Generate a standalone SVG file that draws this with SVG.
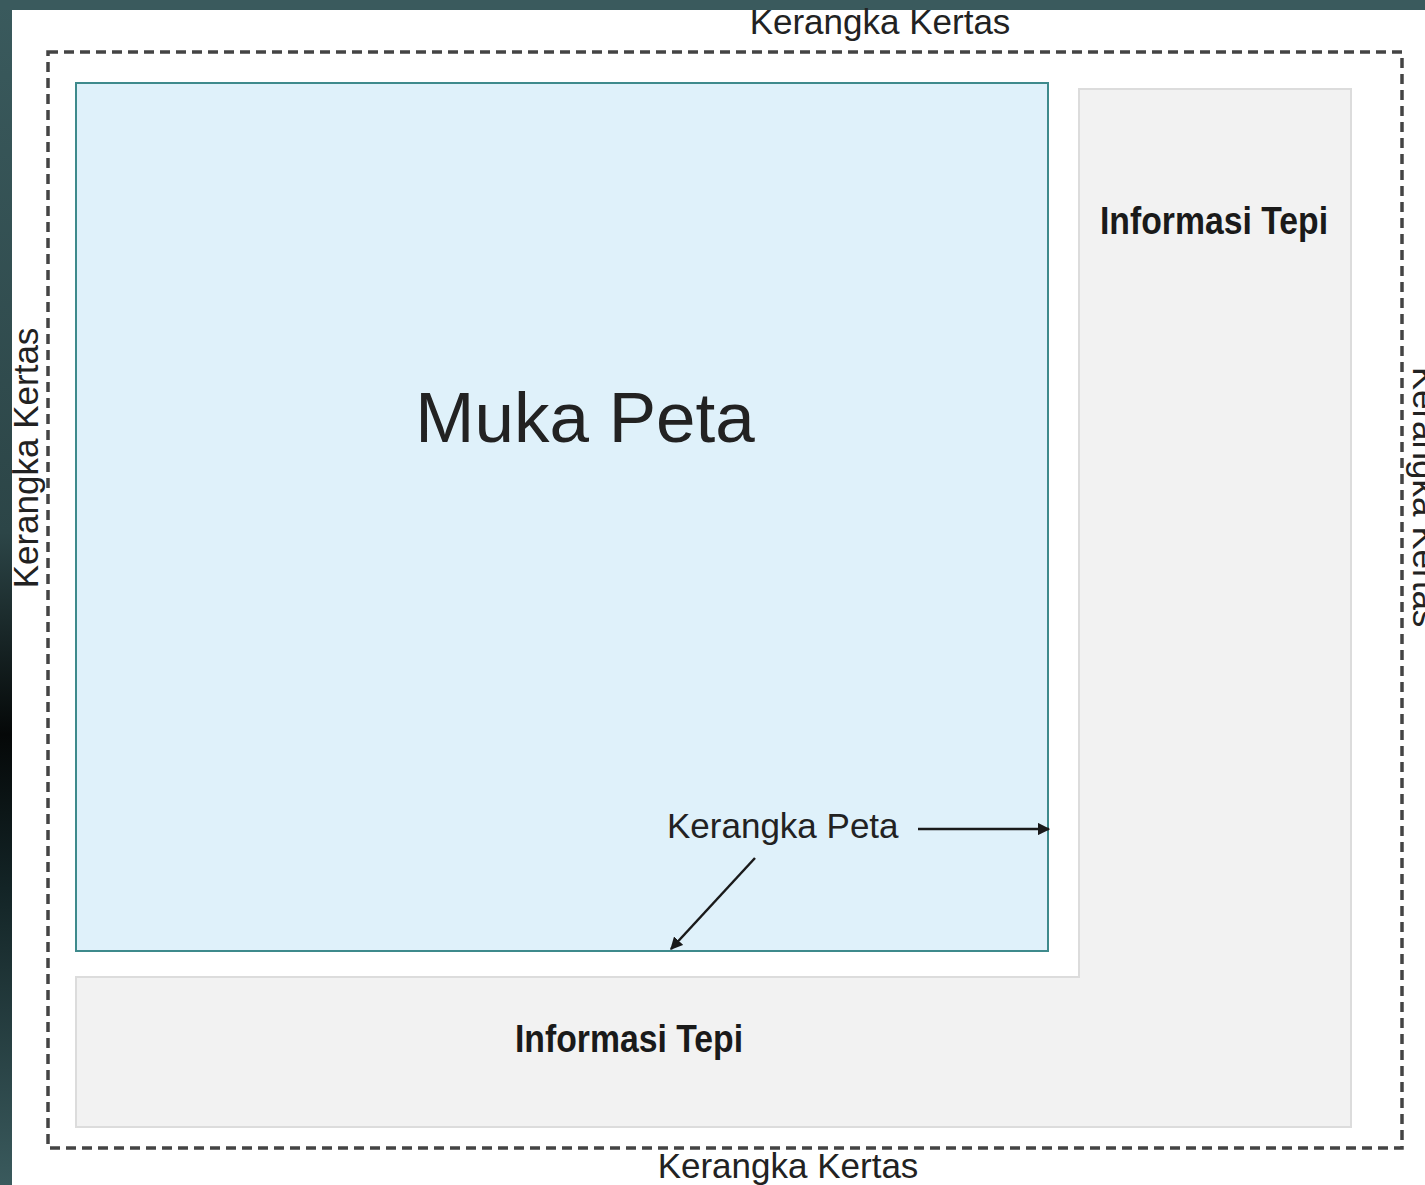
<svg xmlns="http://www.w3.org/2000/svg" width="1425" height="1185" viewBox="0 0 1425 1185">
<defs>
<style>
.lbl{font-family:"Liberation Sans",Arial,sans-serif;fill:#222;}
.bold{font-family:"Liberation Sans",Arial,sans-serif;font-weight:bold;fill:#1a1a1a;}
.conn{stroke:#1a1a1a;stroke-width:2.5;fill:none;}
</style>
<linearGradient id="side" x1="0" y1="0" x2="0" y2="1">
<stop offset="0" stop-color="#3a5a5d"/>
<stop offset="0.45" stop-color="#2c4547"/>
<stop offset="0.62" stop-color="#050808"/>
<stop offset="0.75" stop-color="#132426"/>
<stop offset="1" stop-color="#3a5a5d"/>
</linearGradient>
<marker id="ah" viewBox="0 0 10 10" refX="9" refY="5" markerWidth="5" markerHeight="5" orient="auto" markerUnits="strokeWidth">
<path d="M0,0 L10,5 L0,10 z" fill="#1a1a1a"/>
</marker>
</defs>
<rect x="0" y="0" width="1425" height="1185" fill="#ffffff"/>
<rect x="0" y="0" width="12" height="1185" fill="url(#side)"/>
<rect x="0" y="0" width="1425" height="10" fill="#3a5a5d"/>
<g id="kerangka-kertas">
<rect x="48" y="52" width="1354" height="1096" fill="none" stroke="#444" stroke-width="3.5" stroke-dasharray="10 6"/>
<text class="lbl" x="880" y="34" font-size="35" text-anchor="middle">Kerangka Kertas</text>
<text class="lbl" x="788" y="1178" font-size="35" text-anchor="middle">Kerangka Kertas</text>
<text class="lbl" font-size="35" text-anchor="middle" transform="translate(38,458) rotate(-90)">Kerangka Kertas</text>
<text class="lbl" font-size="35" text-anchor="middle" transform="translate(1413,497) rotate(90)">Kerangka Kertas</text>
</g>
<g id="informasi-tepi">
<path d="M1079,89 L1351,89 L1351,1127 L76,1127 L76,977 L1079,977 Z" fill="#f2f2f2" stroke="#dcdcdc" stroke-width="2"/>
<text class="bold" x="1214" y="234" font-size="38" text-anchor="middle" textLength="228" lengthAdjust="spacingAndGlyphs">Informasi Tepi</text>
<text class="bold" x="629" y="1052" font-size="38" text-anchor="middle" textLength="228" lengthAdjust="spacingAndGlyphs">Informasi Tepi</text>
</g>
<g id="muka-peta">
<rect x="76" y="83" width="972" height="868" fill="#dff1fa" stroke="#3e8a8c" stroke-width="2"/>
<text class="lbl" x="585" y="442" font-size="71" text-anchor="middle">Muka Peta</text>
</g>
<g id="kerangka-peta">
<text class="lbl" x="667" y="838" font-size="35">Kerangka Peta</text>
</g>
<g id="connectors">
<line class="conn" x1="918" y1="829" x2="1049" y2="829" marker-end="url(#ah)"/>
<line class="conn" x1="755" y1="858" x2="671" y2="949" marker-end="url(#ah)"/>
</g>
</svg>
